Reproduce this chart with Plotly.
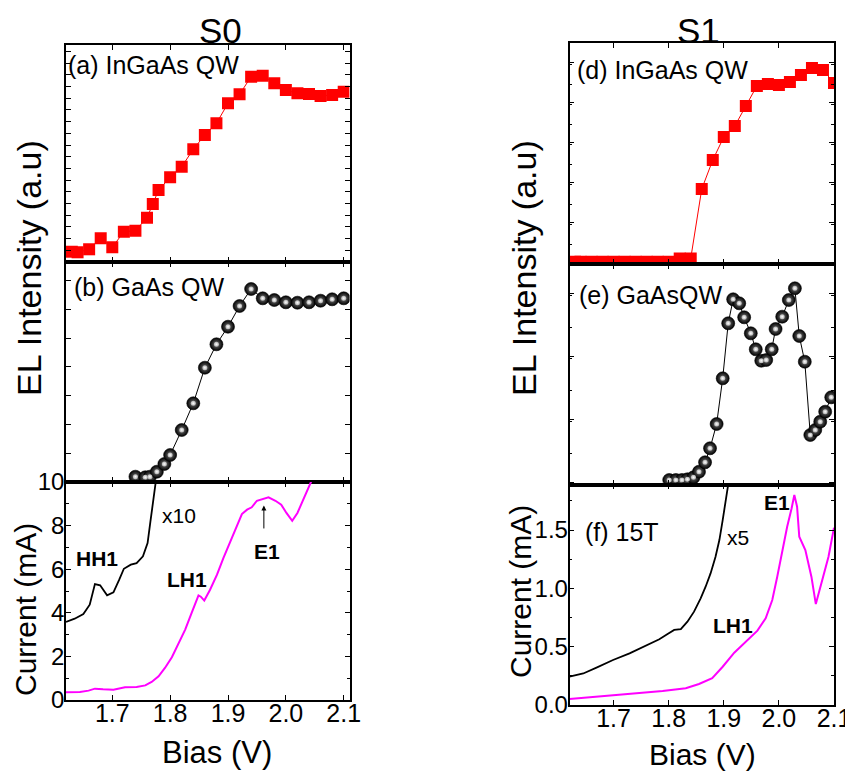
import plotly.graph_objects as go

# ---------------- data ----------------
# (a) S0 InGaAs QW EL intensity (a.u.)
bias_a = [1.63, 1.64, 1.66, 1.68, 1.70, 1.72, 1.74, 1.76, 1.77, 1.78, 1.80, 1.82, 1.84,
          1.86, 1.88, 1.90, 1.92, 1.94, 1.96, 1.98, 2.00, 2.02, 2.04, 2.06, 2.08, 2.10]
el_a = [10.3, 9.7, 12.7, 23.7, 14.7, 30.3, 31.3, 44.3, 58, 72, 84.7, 95.3, 112.7,
        127, 138.7, 158.7, 167.7, 185.3, 186.3, 178.7, 172, 168.7, 168, 166, 167, 170.3]

# (b) S0 GaAs QW EL intensity (a.u.)
bias_b = [1.74, 1.757, 1.765, 1.777, 1.79, 1.80, 1.82, 1.84, 1.86, 1.88, 1.90, 1.92,
          1.94, 1.96, 1.98, 2.00, 2.02, 2.04, 2.06, 2.08, 2.10]
el_b = [5.3, 4.7, 5.3, 10.3, 18, 27, 52, 78.7, 114.3, 137.7, 155.3, 176,
        193, 183.7, 182, 179.7, 179.3, 179.7, 181.3, 182.7, 183.7]

# (c) S0 current at 15T: x10 curve and raw curve (mA)
bias_c10 = [1.62, 1.635, 1.65, 1.661, 1.67, 1.679, 1.691, 1.702, 1.712, 1.72, 1.732,
            1.742, 1.753, 1.761, 1.766, 1.772, 1.776, 1.779]
cur_c10 = [3.58, 3.73, 3.94, 4.37, 5.32, 5.26, 4.80, 4.94, 5.52, 6.02, 6.21,
           6.28, 6.59, 7.20, 8.20, 9.27, 10.18, 11.0]
bias_c = [1.62, 1.644, 1.659, 1.670, 1.684, 1.702, 1.722, 1.742, 1.757, 1.768, 1.780,
          1.791, 1.803, 1.814, 1.826, 1.837, 1.849, 1.853, 1.859, 1.869, 1.881, 1.892,
          1.904, 1.915, 1.924, 1.933, 1.941, 1.950, 1.962, 1.970, 1.982, 1.992, 2.001,
          2.011, 2.020, 2.032, 2.044, 2.05]
cur_c = [0.35, 0.37, 0.43, 0.52, 0.49, 0.47, 0.58, 0.60, 0.67, 0.83, 1.09,
         1.47, 1.96, 2.54, 3.23, 3.99, 4.80, 4.74, 4.56, 5.06, 5.75, 6.51,
         7.28, 8.04, 8.53, 8.73, 8.84, 9.14, 9.22, 9.30, 9.14, 8.96, 8.58,
         8.22, 8.58, 9.27, 10.0, 10.4]

# (d) S1 InGaAs QW EL intensity (a.u.)
bias_d = [1.63, 1.64, 1.66, 1.68, 1.70, 1.72, 1.74, 1.76, 1.78, 1.80, 1.82, 1.84,
          1.86, 1.88, 1.90, 1.92, 1.94, 1.96, 1.98, 2.00, 2.02, 2.04, 2.06, 2.08, 2.10]
el_d = [2.2, 2.2, 2.2, 2.2, 2.2, 2.2, 2.2, 2.2, 2.2, 2.2, 5.5, 5.5,
        75, 104, 127, 138, 158, 178, 180, 179, 182, 189, 196, 194, 181]

# (e) S1 GaAs QW EL intensity (a.u.)
bias_e = [1.801, 1.813, 1.824, 1.834, 1.845, 1.855, 1.866, 1.875, 1.887, 1.898, 1.908,
          1.917, 1.928, 1.937, 1.949, 1.958, 1.968, 1.977, 1.987, 1.994, 2.006, 2.018,
          2.029, 2.037, 2.047, 2.057, 2.066, 2.075, 2.084, 2.095]
el_e = [4.5, 4.5, 4.5, 5.2, 7.2, 12.8, 22.2, 36.2, 60.5, 106.2, 161.2,
        185.2, 181.2, 167.2, 151.2, 135.2, 123.8, 124.5, 135.2, 155.5, 167.8, 184.5,
        196.2, 148.5, 122.8, 49.5, 54.5, 62.8, 72.8, 87.2]

# (f) S1 current at 15T: x5 curve and raw curve (mA)
bias_f5 = [1.620, 1.645, 1.669, 1.699, 1.729, 1.759, 1.783, 1.798, 1.810, 1.822, 1.834,
           1.846, 1.858, 1.867, 1.876, 1.885, 1.892, 1.898, 1.904, 1.908, 1.910]
cur_f5 = [0.243, 0.27, 0.32, 0.386, 0.443, 0.508, 0.563, 0.608, 0.643, 0.651, 0.714,
          0.80, 0.914, 1.014, 1.128, 1.271, 1.414, 1.585, 1.757, 1.885, 1.95]
bias_f = [1.620, 1.669, 1.729, 1.789, 1.831, 1.855, 1.879, 1.898, 1.919, 1.940, 1.961,
          1.976, 1.988, 1.997, 2.006, 2.015, 2.023, 2.028, 2.033, 2.037, 2.048, 2.059,
          2.067, 2.078, 2.090, 2.100]
cur_f = [0.051, 0.071, 0.094, 0.12, 0.143, 0.18, 0.229, 0.328, 0.448, 0.543, 0.637,
         0.743, 0.90, 1.10, 1.328, 1.528, 1.685, 1.80, 1.70, 1.442, 1.328, 1.10,
         0.865, 1.057, 1.271, 1.52]

x_ticks = [1.7, 1.8, 1.9, 2.0, 2.1]
x_tick_text = ["1.7", "1.8", "1.9", "2.0", "2.1"]

# ---------------- figure ----------------
OFF = 8                      # page offset of the plot div
W, H = 853 - OFF, 778 - OFF
FONT = "Arial, Liberation Sans, sans-serif"

def fx(p):
    return (p - OFF) / W

def fy(p):
    return 1 - (p - OFF) / H

RED = "#ff0000"
MAG = "#ff00ff"

square = dict(symbol="square", size=12, color=RED, line=dict(width=0))
sphere = dict(symbol="circle", size=13, color="#000000",
              gradient=dict(type="radial", color="#7a7a7a"),
              line=dict(width=0.6, color="#000000"))
shine = dict(symbol="circle", size=5, color="#b0b0b0",
             gradient=dict(type="radial", color="#ffffff"), line=dict(width=0))

fig = go.Figure()
fig.add_trace(go.Scatter(x=bias_a, y=el_a, mode="lines+markers", marker=square,
                         line=dict(color=RED, width=1), xaxis="x", yaxis="y"))
fig.add_trace(go.Scatter(x=bias_b, y=el_b, mode="lines+markers", marker=sphere,
                         line=dict(color="black", width=1), xaxis="x2", yaxis="y2"))
fig.add_trace(go.Scatter(x=bias_b, y=el_b, mode="markers", marker=shine,
                         xaxis="x2", yaxis="y2", hoverinfo="skip"))
fig.add_trace(go.Scatter(x=bias_c10, y=cur_c10, mode="lines",
                         line=dict(color="black", width=1.8), xaxis="x3", yaxis="y3"))
fig.add_trace(go.Scatter(x=bias_c, y=cur_c, mode="lines",
                         line=dict(color=MAG, width=2), xaxis="x3", yaxis="y3"))
fig.add_trace(go.Scatter(x=bias_d, y=el_d, mode="lines+markers", marker=square,
                         line=dict(color=RED, width=1), xaxis="x4", yaxis="y4"))
fig.add_trace(go.Scatter(x=bias_e, y=el_e, mode="lines+markers", marker=sphere,
                         line=dict(color="black", width=1), xaxis="x5", yaxis="y5"))
fig.add_trace(go.Scatter(x=bias_e, y=el_e, mode="markers", marker=shine,
                         xaxis="x5", yaxis="y5", hoverinfo="skip"))
fig.add_trace(go.Scatter(x=bias_f5, y=cur_f5, mode="lines",
                         line=dict(color="black", width=1.8), xaxis="x6", yaxis="y6"))
fig.add_trace(go.Scatter(x=bias_f, y=cur_f, mode="lines",
                         line=dict(color=MAG, width=2), xaxis="x6", yaxis="y6"))

left_dom = [fx(66), fx(349.5)]
right_dom = [fx(569.5), fx(834)]

def xax(dom, rng, anchor, labels):
    return dict(domain=dom, range=rng, anchor=anchor, showline=True, linecolor="black",
                linewidth=1.5, mirror="ticks", ticks="inside", ticklen=5, tickwidth=1.2,
                tickcolor="black", tickvals=x_ticks, ticktext=x_tick_text,
                showticklabels=labels, showgrid=False, zeroline=False, automargin=False,
                ticklabelstandoff=-10,
                tickfont=dict(family=FONT, size=25, color="black"))

def yax(dom, rng, anchor, labels, tick0, dtick, minor=None, fmt=None):
    d = dict(domain=dom, range=rng, anchor=anchor, showline=True, linecolor="black",
             linewidth=1.5, mirror="ticks", ticks="inside", ticklen=5, tickwidth=1.2,
             tickcolor="black", tick0=tick0, dtick=dtick, showticklabels=labels,
             showgrid=False, zeroline=False, automargin=False, ticklabelstandoff=-5,
             tickfont=dict(family=FONT, size=24, color="black"))
    if minor:
        d["minor"] = dict(dtick=minor, ticks="inside", ticklen=3, tickcolor="black",
                          showgrid=False)
    if fmt:
        d["tickformat"] = fmt
    return d

fig.update_layout(
    width=W, height=H, margin=dict(l=0, r=0, t=0, b=0, pad=0, autoexpand=False),
    paper_bgcolor="white", plot_bgcolor="white", showlegend=False,
    font=dict(family=FONT, color="black"),
    xaxis=xax(left_dom, [1.62, 2.11], "y", False),
    yaxis=yax([fy(262), fy(45)], [0, 217], "x", False, 0, 11.7),
    xaxis2=xax(left_dom, [1.62, 2.11], "y2", False),
    yaxis2=yax([fy(482), fy(262)], [0, 220], "x2", False, 0, 28.8),
    xaxis3=xax(left_dom, [1.62, 2.11], "y3", True),
    yaxis3=yax([fy(700), fy(482)], [0, 10], "x3", True, 0, 2, minor=1),
    xaxis4=xax(right_dom, [1.62, 2.1], "y4", False),
    yaxis4=yax([fy(264), fy(43)], [0, 221], "x4", False, 2, 40, minor=20),
    xaxis5=xax(right_dom, [1.62, 2.1], "y5", False),
    yaxis5=yax([fy(484.5), fy(264)], [0, 220.5], "x5", False, 2, 63, minor=31.5),
    xaxis6=xax(right_dom, [1.62, 2.1], "y6", True),
    yaxis6=yax([fy(705), fy(484.5)], [0, 1.89], "x6", True, 0, 0.5, minor=0.25, fmt=".1f"),
)

ann = []

def paper_text(text, x, y, size, angle=0):
    ann.append(dict(text=text, x=fx(x), y=fy(y), xref="paper", yref="paper",
                    showarrow=False, textangle=angle, xanchor="center", yanchor="middle",
                    borderpad=0, font=dict(family=FONT, size=size, color="black")))

def data_text(text, x, y, axn, size, bold=False, anchor="left"):
    ann.append(dict(text=("<b>%s</b>" % text) if bold else text, x=x, y=y,
                    xref="x%s" % axn, yref="y%s" % axn, showarrow=False,
                    xanchor=anchor, yanchor="middle", borderpad=0,
                    font=dict(family=FONT, size=size, color="black")))

# column titles and axis titles
paper_text("S0", 220, 30, 35)
paper_text("S1", 698, 30, 35)
paper_text("EL Intensity (a.u)", 29, 268, 34, -90)
paper_text("EL Intensity (a.u)", 524, 268, 34, -90)
paper_text("Current (mA)", 25, 610, 30, -90)
paper_text("Current (mA)", 520, 592, 30, -90)
paper_text("Bias (V)", 217, 752, 31)
paper_text("Bias (V)", 702, 754, 30)

# panel labels
data_text("(a) InGaAs QW", 1.621, 197, "", 25)
data_text("(b) GaAs QW", 1.632, 195, "2", 25)
data_text("(c) 15T", 1.619, 8.96, "3", 25)
data_text("(d) InGaAs QW", 1.632, 193.7, "4", 25)
data_text("(e) GaAsQW", 1.635, 189.5, "5", 25)
data_text("(f) 15T", 1.646, 1.485, "6", 25)

# curve labels
data_text("HH1", 1.673, 6.48, "3", 21, bold=True, anchor="center")
data_text("LH1", 1.829, 5.52, "3", 21, bold=True, anchor="center")
data_text("E1", 1.967, 6.82, "3", 21, bold=True, anchor="center")
data_text("x10", 1.816, 8.47, "3", 21, anchor="center")
data_text("LH1", 1.916, 0.68, "6", 21, bold=True, anchor="center")
data_text("E1", 1.997, 1.74, "6", 21, bold=True, anchor="center")
data_text("x5", 1.925, 1.44, "6", 21, anchor="center")

# E1 arrow in (c)
ann.append(dict(x=1.962, y=8.92, ax=1.962, ay=7.8, xref="x3", yref="y3",
                axref="x3", ayref="y3", showarrow=True, arrowhead=2, arrowsize=1,
                arrowwidth=1, arrowcolor="black", text=""))

fig.update_layout(annotations=ann)

fig.write_html("out.html")
